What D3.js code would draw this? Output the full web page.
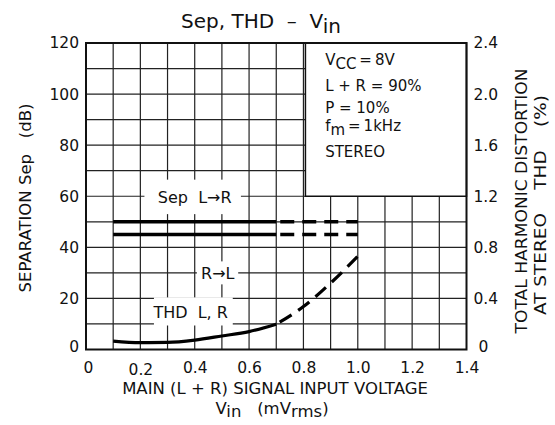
<!DOCTYPE html>
<html><head><meta charset="utf-8">
<script src="https://cdn.jsdelivr.net/npm/d3@7"></script>
<style>
body{margin:0;background:#fff;}
svg text{font-family:"DejaVu Sans",sans-serif;fill:#111;white-space:pre;}
</style></head>
<body><svg id="c" width="555" height="425"></svg>
<script>
// ---- data ----
const vin      = [0.1,0.2,0.3,0.4,0.5,0.6,0.7,0.8,0.9,1.0];
const sepLR    = [50,50,50,50,50,50,50,50,50,50];      // dB
const sepRL    = [45,45,45,45,45,45,45,45,45,45];      // dB
const thdLR    = [0.066,0.054,0.056,0.074,0.106,0.14,0.198,0.336,0.52,0.73]; // %
const solidMax = 0.7;   // solid up to here, dashed beyond
const xTicks   = [0,0.2,0.4,0.6,0.8,1.0,1.2,1.4];
const xTickLabels = ["0","0.2","0.4","0.6","0.8","1.0","1.2","1.4"];
const yLTicks  = [0,20,40,60,80,100,120];
const yRTicks  = [0,0.4,0.8,1.2,1.6,2.0,2.4];
const yRTickLabels = ["0","0.4","0.8","1.2","1.6","2.0","2.4"];
const condLines = [["V",["CC"],"\u2009=\u20098V"],["L + R = 90%"],["P = 10%"],["f",["m"],"\u2009=\u20091kHz"],["STEREO"]];

// ---- layout ----
const svg = d3.select("#c");
const X0=86, X1=466.5, Ytop=43, Ybot=349.5;
const x  = d3.scaleLinear().domain([0,1.4]).range([X0,X1]);
const yL = d3.scaleLinear().domain([0,120]).range([Ybot,Ytop]);
const yR = d3.scaleLinear().domain([0,2.4]).range([Ybot,Ytop]);

// grid
const g = svg.append("g");
g.selectAll("line.v").data(d3.range(1,14).map(i=>i/10)).join("line")
  .attr("x1",d=>x(d)).attr("x2",d=>x(d)).attr("y1",Ytop).attr("y2",Ybot)
  .attr("stroke","#222").attr("stroke-width",1.2);
g.selectAll("line.h").data(d3.range(1,12).map(i=>i*10)).join("line")
  .attr("x1",X0).attr("x2",X1).attr("y1",d=>yL(d)).attr("y2",d=>yL(d))
  .attr("stroke","#222").attr("stroke-width",1.2);

// white masks behind in-plot labels
const masks = [[x(0.215),yL(66.5),x(0.57),yL(53)],[x(0.408),yL(34.5),x(0.56),yL(25.5)],[x(0.25),yL(20.4),x(0.54),yL(9.4)]];
svg.selectAll("rect.m").data(masks).join("rect")
  .attr("x",d=>d[0]).attr("y",d=>d[1]).attr("width",d=>d[2]-d[0]).attr("height",d=>d[3]-d[1]).attr("fill","#fff");

// conditions box
svg.append("rect").attr("x",x(0.8)+2).attr("y",Ytop).attr("width",x(1.4)-x(0.8)-2).attr("height",yL(60)-Ytop)
  .attr("fill","#fff").attr("stroke","#111").attr("stroke-width",1.5);
const ct = svg.append("g").attr("font-size",15);
condLines.forEach((ln,i)=>{
  const t = ct.append("text").attr("x",x(0.88)).attr("y",69+i*22);
  ln.forEach(p=>{
    if(Array.isArray(p)) t.append("tspan").attr("dy",4).text(p[0]);
    else { const s=t.append("tspan").text(p); if(ln.length>1) s.attr("dy",-4); }
  });
});

// frame
svg.append("rect").attr("x",X0).attr("y",Ytop).attr("width",X1-X0).attr("height",Ybot-Ytop)
  .attr("fill","none").attr("stroke","#111").attr("stroke-width",2);

// curves
const lineL = d3.line().x(d=>x(d[0])).y(d=>yL(d[1]));
const lineR = d3.line().x(d=>x(d[0])).y(d=>yR(d[1])).curve(d3.curveMonotoneX);
function drawSeries(vals, gen, w){
  const pts = vin.map((v,i)=>[v,vals[i]]);
  const solid = pts.filter(p=>p[0]<=solidMax+1e-9);
  const dashed = pts.filter(p=>p[0]>=solidMax-1e-9);
  svg.append("path").attr("d",gen(solid)).attr("fill","none").attr("stroke","#000").attr("stroke-width",w);
  svg.append("path").attr("d",gen(dashed)).attr("fill","none").attr("stroke","#000").attr("stroke-width",w)
    .attr("stroke-dasharray","14,8").attr("stroke-dashoffset",-4);
}
drawSeries(sepLR,lineL,3.6);
drawSeries(sepRL,lineL,3.6);
drawSeries(thdLR,lineR,3.2);

// in-plot labels
const lab = svg.append("g").attr("font-size",16).attr("text-anchor","middle").attr("dominant-baseline","central");
lab.append("text").attr("x",x(0.4)).attr("y",yL(60)+1).text("Sep  L\u2192R");
lab.append("text").attr("x",x(0.485)).attr("y",yL(30)+1).text("R\u2192L");
lab.append("text").attr("x",x(0.385)).attr("y",yL(14.4)).text("THD  L, R");

// axes tick labels
const fs = 15.5;
const xa = d3.axisBottom(x).tickValues(xTicks).tickSize(0).tickFormat((d,i)=>xTickLabels[i]);
svg.append("g").attr("transform",`translate(0,${Ybot+9})`).call(xa)
  .call(s=>{s.select(".domain").remove();s.selectAll("text").attr("font-size",fs).attr("font-family","DejaVu Sans")
    .attr("dx",(d)=>d===0?2:0).attr("dy",(d)=>d===0.2?"0.85em":"0.71em");});
const yla = d3.axisLeft(yL).tickValues(yLTicks).tickSize(0).tickFormat(d3.format("d"));
svg.append("g").attr("transform",`translate(${X0-4},0)`).call(yla)
  .call(s=>{s.select(".domain").remove();s.selectAll("text").attr("font-size",fs).attr("font-family","DejaVu Sans")
    .attr("dy",d=>d===0?"0.1em":"0.32em").attr("x",-3);});
const yra = d3.axisRight(yR).tickValues(yRTicks).tickSize(0).tickFormat((d,i)=>yRTickLabels[i]);
svg.append("g").attr("transform",`translate(${X1+4},0)`).call(yra)
  .call(s=>{s.select(".domain").remove();s.selectAll("text").attr("font-size",fs).attr("font-family","DejaVu Sans")
    .attr("dy",d=>d===0?"0.1em":"0.32em").attr("x",d=>d===0?8:3);});

// titles
const tt = svg.append("text").attr("x",261).attr("y",28).attr("text-anchor","middle").attr("font-size",20);
tt.append("tspan").text("Sep, THD  \u2013  V");
tt.append("tspan").attr("dy",5).text("in");

svg.append("text").attr("x",275).attr("y",394).attr("text-anchor","middle").attr("font-size",16.5)
  .text("MAIN (L + R) SIGNAL INPUT VOLTAGE");
const xt2 = svg.append("text").attr("x",272).attr("y",414).attr("text-anchor","middle").attr("font-size",16.5);
xt2.append("tspan").text("V");
xt2.append("tspan").attr("dy",3).text("in");
xt2.append("tspan").attr("dy",-3).text("   (mV");
xt2.append("tspan").attr("dy",3).text("rms");
xt2.append("tspan").attr("dy",-3).text(")");

svg.append("text").attr("transform","translate(31,198) rotate(-90)").attr("text-anchor","middle")
  .attr("font-size",16.5).text("SEPARATION Sep   (dB)");
svg.append("text").attr("transform","translate(527,201) rotate(-90)").attr("text-anchor","middle")
  .attr("font-size",16.5).attr("textLength",265).attr("lengthAdjust","spacingAndGlyphs").text("TOTAL HARMONIC DISTORTION");
svg.append("text").attr("transform","translate(546,205) rotate(-90)").attr("text-anchor","middle")
  .attr("font-size",16.5).attr("textLength",220).attr("lengthAdjust","spacingAndGlyphs").text("AT STEREO    THD    (%)");
</script></body></html>
